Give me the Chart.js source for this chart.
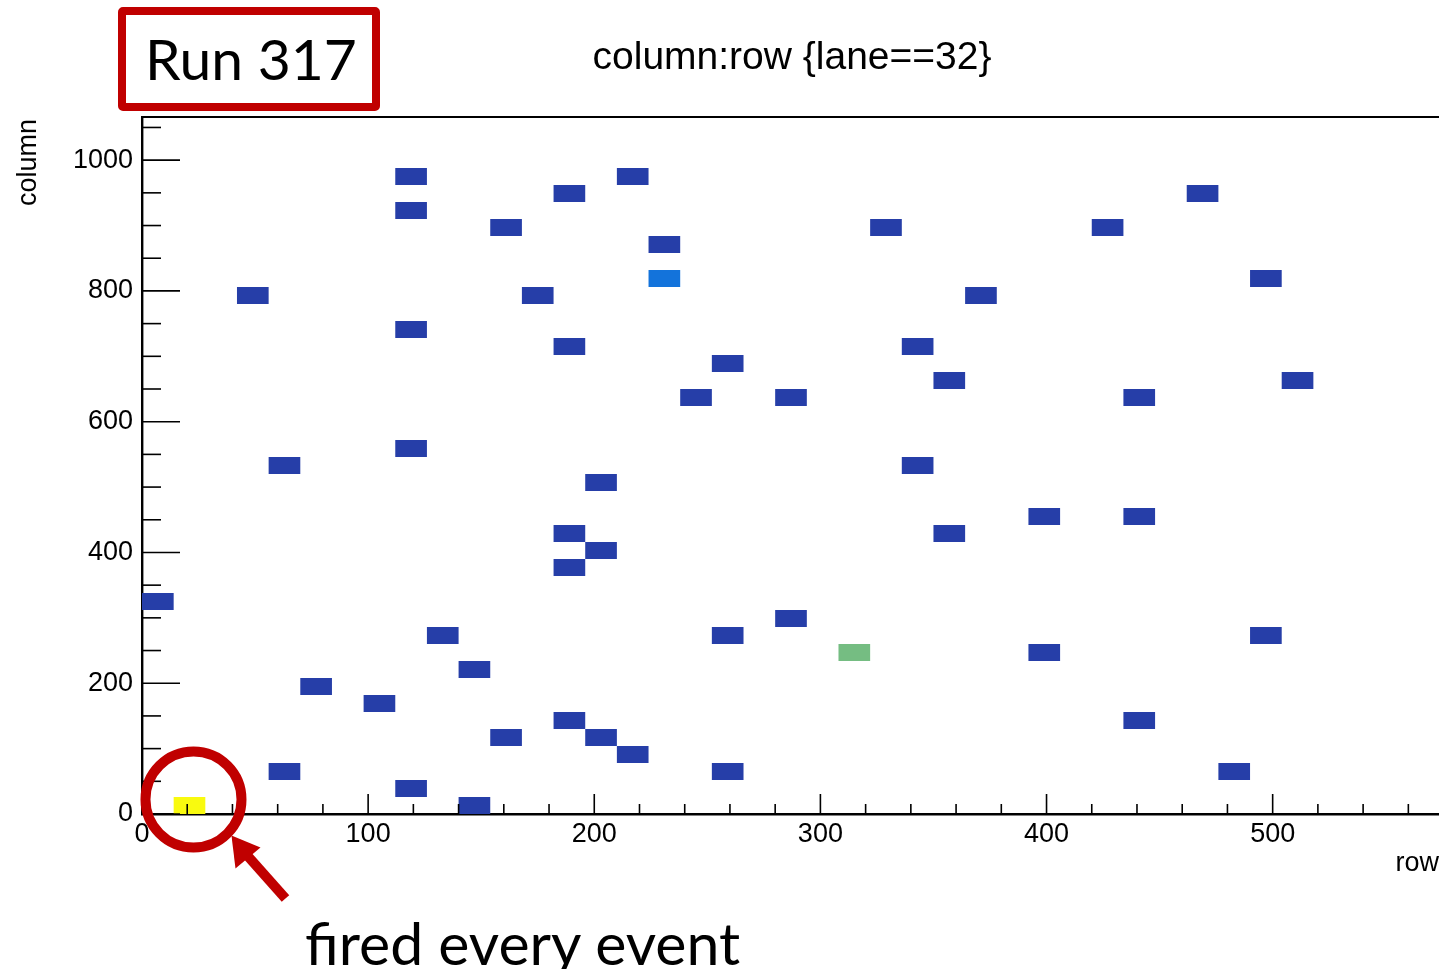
<!DOCTYPE html>
<html>
<head>
<meta charset="utf-8">
<title>column:row {lane==32}</title>
<script src="https://cdn.jsdelivr.net/npm/chart.js@4.4.0/dist/chart.umd.min.js"></script>
<style>
html,body{margin:0;padding:0;background:#fff;overflow:hidden}
#wrap{position:relative;width:1441px;height:969px}
#hitmap{position:absolute;left:0;top:0}
.lbl{position:absolute;white-space:nowrap;line-height:1;color:#000;font-variant-ligatures:none}
#runBox{position:absolute;left:118px;top:7px;width:262px;height:104px;box-sizing:border-box;border:8px solid #c00000;border-radius:5px;background:#fff}
#runTxt{left:145px;top:24px;font:57px Lato,sans-serif}
#histTitle{left:792px;top:34px;transform:translateX(-50%);font:39px "Liberation Sans",Arial,sans-serif}
#xTitle{right:2px;top:847px;font:27px "Liberation Sans",Arial,sans-serif}
#yTitle{left:12px;top:206px;transform:rotate(-90deg);transform-origin:0 0;font:27px "Liberation Sans",Arial,sans-serif}
#note{left:305px;top:907px;font:59px Lato,sans-serif}
</style>
</head>
<body>
<div id="wrap">
  <canvas id="hitmap" width="1441" height="969"></canvas>
  <div id="runBox"></div>
  <div class="lbl" id="runTxt">Run 317</div>
  <div class="lbl" id="histTitle">column:row {lane==32}</div>
  <div class="lbl" id="xTitle">row</div>
  <div class="lbl" id="yTitle">column</div>
  <div class="lbl" id="note">fired every event</div>
</div>
<script>
// binning of the TH2 (41 x 41 bins)
const rowBinWidth=14, colBinWidth=26;
const rowMax=574, colMax=1066;

// filled bins: row / column bin centres and entries
const rows=[119,217,189,469,119,161,329,427,231,231,497,49,175,371,119,189,343,259,357,511,245,287,441,119,63,343,203,399,441,189,357,203,189,7,287,133,259,497,315,399,147,77,105,189,441,161,203,217,63,259,483,119,21,147];
const cols=[975,975,949,949,923,897,897,897,871,819,819,793,793,793,741,715,715,689,663,663,637,637,637,559,533,533,507,455,455,429,429,403,377,325,299,273,273,273,247,247,221,195,169,143,143,117,117,91,65,65,65,39,13,13];
const counts=[1,1,1,1,1,1,1,1,1,2, 1,1,1,1,1,1,1,1,1,1, 1,1,1,1,1,1,1,1,1,1, 1,1,1,1,1,1,1,1,5,1, 1,1,1,1,1,1,1,1,1,1, 1,1,7,1];

// axis ticks
const rowTickStep=20, rowLabelStep=100;
const colTickStep=50, colLabelStep=200;

// colz palette (fraction of max -> colour)
const palette=[[0.15,'#263ea8'],[0.3,'#1373db'],[0.75,'#75bd82'],[1,'#f9fa0f']];
const zMax=Math.max(...counts);
function binColor(v){const f=v/zMax;for(const [s,c] of palette){if(f<=s+1e-9)return c;}return palette[palette.length-1][1];}

const RED='#c00000';
const tickFont={family:'Liberation Sans',size:27};

const binsPlugin={id:'bins',afterDatasetsDraw(chart){
  const {ctx,scales:{x,y}}=chart;
  ctx.save();
  chart.data.datasets[0].data.forEach(p=>{
    const x0=Math.floor(p.x/rowBinWidth)*rowBinWidth, y0=Math.floor(p.y/colBinWidth)*colBinWidth;
    const l=x.getPixelForValue(x0), r=x.getPixelForValue(x0+rowBinWidth);
    const t=y.getPixelForValue(y0+colBinWidth), b=y.getPixelForValue(y0);
    ctx.fillStyle=binColor(p.v);
    ctx.fillRect(l,t,r-l,b-t);
  });
  ctx.restore();
}};

// ROOT style frame: ticks pointing in, top frame line, plus the red annotation
const framePlugin={id:'frame',afterDraw(chart){
  const {ctx,chartArea:{left,right,top,bottom},scales:{x,y}}=chart;
  ctx.save();
  ctx.strokeStyle='#000';ctx.lineWidth=1.6;
  x.ticks.forEach(t=>{
    const px=x.getPixelForValue(t.value),len=t.value%rowLabelStep===0?20:10;
    ctx.beginPath();ctx.moveTo(px,bottom);ctx.lineTo(px,bottom-len);ctx.stroke();
  });
  y.ticks.forEach(t=>{
    const py=y.getPixelForValue(t.value),len=t.value%colLabelStep===0?38:19;
    ctx.beginPath();ctx.moveTo(left,py);ctx.lineTo(left+len,py);ctx.stroke();
  });
  ctx.lineWidth=2;
  ctx.beginPath();ctx.moveTo(left,top);ctx.lineTo(right,top);ctx.stroke();

  // circle round the hot pixel
  const hi=counts.indexOf(zMax);
  const cx=x.getPixelForValue(rows[hi])+4, cy=y.getPixelForValue(cols[hi])-6;
  ctx.strokeStyle=RED;ctx.fillStyle=RED;ctx.lineWidth=10;
  ctx.beginPath();ctx.arc(cx,cy,48,0,Math.PI*2);ctx.stroke();
  // arrow
  ctx.lineWidth=10;ctx.lineCap='butt';
  ctx.beginPath();ctx.moveTo(cx+92,cy+99);ctx.lineTo(cx+52,cy+54);ctx.stroke();
  ctx.beginPath();ctx.moveTo(cx+38,cy+36);ctx.lineTo(cx+67,cy+48);ctx.lineTo(cx+42,cy+69);ctx.closePath();ctx.fill();
  ctx.restore();
}};

new Chart(document.getElementById('hitmap'),{
  type:'scatter',
  data:{datasets:[{data:rows.map((r,i)=>({x:r,y:cols[i],v:counts[i]})),pointRadius:0,pointHoverRadius:0}]},
  options:{
    responsive:false,animation:false,events:[],
    layout:{padding:{top:117,right:1,left:0,bottom:0}},
    plugins:{legend:{display:false},tooltip:{enabled:false}},
    scales:{
      x:{type:'linear',min:0,max:rowMax,z:1,
        grid:{display:false,drawTicks:false},
        border:{display:true,color:'#000',width:2.4},
        ticks:{stepSize:rowTickStep,autoSkip:false,includeBounds:false,maxRotation:0,padding:4,color:'#000',font:tickFont,
          callback:v=>v%rowLabelStep===0?String(v):''},
        afterFit:s=>{s.height=155;}},
      y:{type:'linear',min:0,max:colMax,z:1,
        grid:{display:false,drawTicks:false},
        border:{display:true,color:'#000',width:2.4},
        ticks:{stepSize:colTickStep,autoSkip:false,includeBounds:false,padding:9,color:'#000',font:tickFont,
          callback:v=>v%colLabelStep===0?String(v):''},
        afterFit:s=>{s.width=142;}}
    }
  },
  plugins:[binsPlugin,framePlugin]
});
</script>
</body>
</html>
